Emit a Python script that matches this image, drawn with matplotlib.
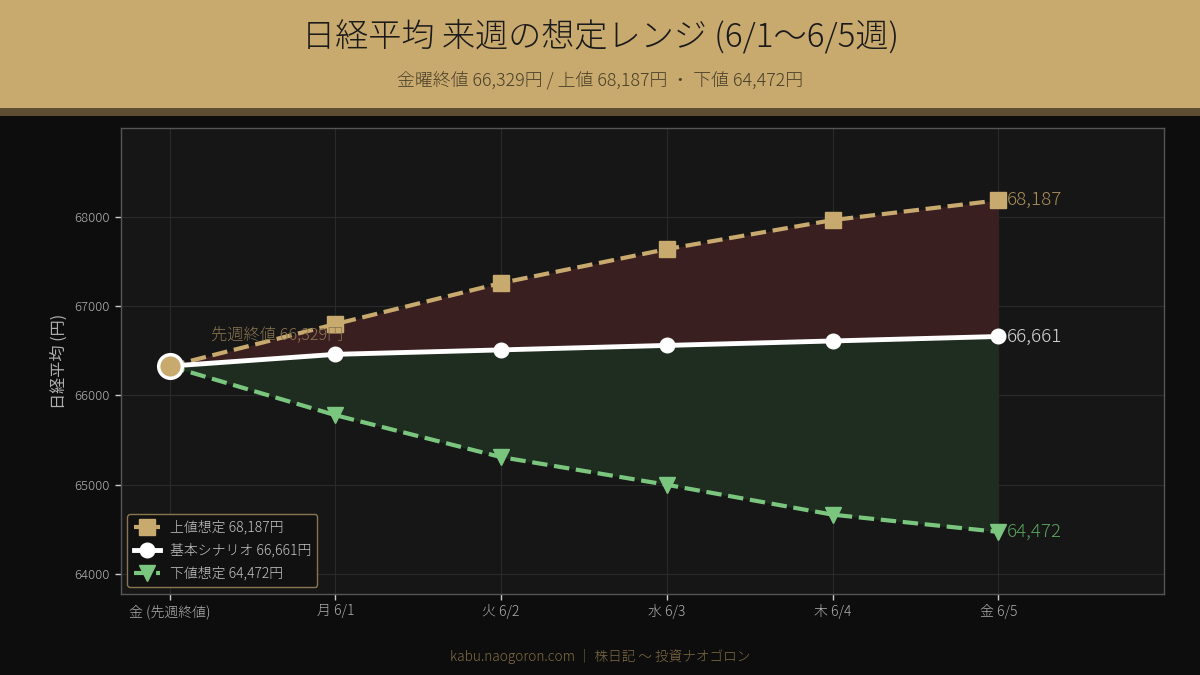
import matplotlib
matplotlib.use('Agg')
import matplotlib.pyplot as plt
from matplotlib.patches import Rectangle

plt.rcParams['font.family'] = ['Noto Sans CJK JP', 'DejaVu Sans']
plt.rcParams['font.weight'] = 'light'

# 読み取った値
days = ['金 (先週終値)', '月 6/1', '火 6/2', '水 6/3', '木 6/4', '金 6/5']
upper = [66329, 66800, 67260, 67640, 67965, 68187]
base = [66329, 66461, 66511, 66561, 66611, 66661]
lower = [66329, 65780, 65310, 65000, 64665, 64472]
y_ticks = [64000, 65000, 66000, 67000, 68000]

GOLD = '#c8a96e'
GREEN = '#7bc67e'
WHITE = '#ffffff'

x = list(range(len(days)))

fig = plt.figure(figsize=(12, 6.75), dpi=100, facecolor='#0d0d0d')

# ヘッダー
fig.add_artist(Rectangle((0, 1 - 108 / 675), 1, 108 / 675, transform=fig.transFigure, color=GOLD, lw=0))
fig.add_artist(Rectangle((0, 1 - 116 / 675), 1, 8 / 675, transform=fig.transFigure, color='#5c4d33', lw=0))
fig.text(0.5, 1 - 37 / 675, '日経平均 来週の想定レンジ (6/1〜6/5週)', ha='center', va='center',
         fontsize=23.9, color='#1a1a1a')
fig.text(0.5, 1 - 81 / 675, '金曜終値 66,329円 / 上値 68,187円 ・ 下値 64,472円', ha='center', va='center',
         fontsize=12.85, color='#4a3f28')

ax = fig.add_axes([120.5 / 1200, 1 - 594 / 675, 1043.5 / 1200, 466 / 675], facecolor='#161616')

ax.fill_between(x, base, upper, color='#3a1f20', lw=0, zorder=1)
ax.fill_between(x, lower, base, color='#1e2d20', lw=0, zorder=1)

ax.plot(x, upper, color=GOLD, lw=3, ls='--', marker='s', ms=11, markevery=[1, 2, 3, 4, 5],
        label='上値想定 68,187円', zorder=3)
ax.plot(x, base, color=WHITE, lw=3.5, marker='o', ms=10.5, markevery=[1, 2, 3, 4, 5],
        label='基本シナリオ 66,661円', zorder=4)
ax.plot(x, lower, color=GREEN, lw=3, ls='--', marker='v', ms=11, markevery=[1, 2, 3, 4, 5],
        label='下値想定 64,472円', zorder=3)
ax.plot(x[0], base[0], marker='o', ms=17, mfc=GOLD, mec=WHITE, mew=2.5, zorder=5)

ax.text(x[-1] + 0.05, upper[-1], f'{upper[-1]:,}', color='#a88c58', fontsize=13.5, va='center', zorder=6)
ax.text(x[-1] + 0.05, base[-1], f'{base[-1]:,}', color='#d8d8d8', fontsize=13.5, va='center', zorder=6)
ax.text(x[-1] + 0.05, lower[-1], f'{lower[-1]:,}', color='#58a05c', fontsize=13.5, va='center', zorder=6)
ax.text(0.25, 66680, '先週終値 66,329円', color='#8a7750', fontsize=11.7, va='center', zorder=6)

ax.set_xlim(-0.296, 6.0)
ax.set_ylim(63776, 68997)
ax.set_xticks(x)
ax.set_xticklabels(days)
ax.set_yticks(y_ticks)
ax.tick_params(colors='#b0b0b0', labelsize=10, length=4, width=1, color='#cccccc', pad=3.5)
ax.tick_params(axis='y', labelsize=9.5)
ax.set_ylabel('日経平均 (円)', color='#b0b0b0', fontsize=11.6, labelpad=5)
ax.grid(True, color='#2a2a2a', lw=0.8, zorder=0)
ax.set_axisbelow(True)
for s in ax.spines.values():
    s.set_color('#555555')
    s.set_linewidth(1)

leg = ax.legend(loc='lower left', fontsize=10, facecolor='#111111', edgecolor='#8a7750',
                labelcolor='#c8c8c8', framealpha=1, borderpad=0.45, labelspacing=0.62,
                handlelength=1.9, handletextpad=0.7)
leg.set_zorder(10)

fig.text(0.5, 1 - 656.5 / 675, 'kabu.naogoron.com ｜ 株日記 〜 投資ナオゴロン', ha='center', va='center',
         fontsize=9.8, color='#806c44')

fig.savefig('out.png', dpi=100, facecolor=fig.get_facecolor())
